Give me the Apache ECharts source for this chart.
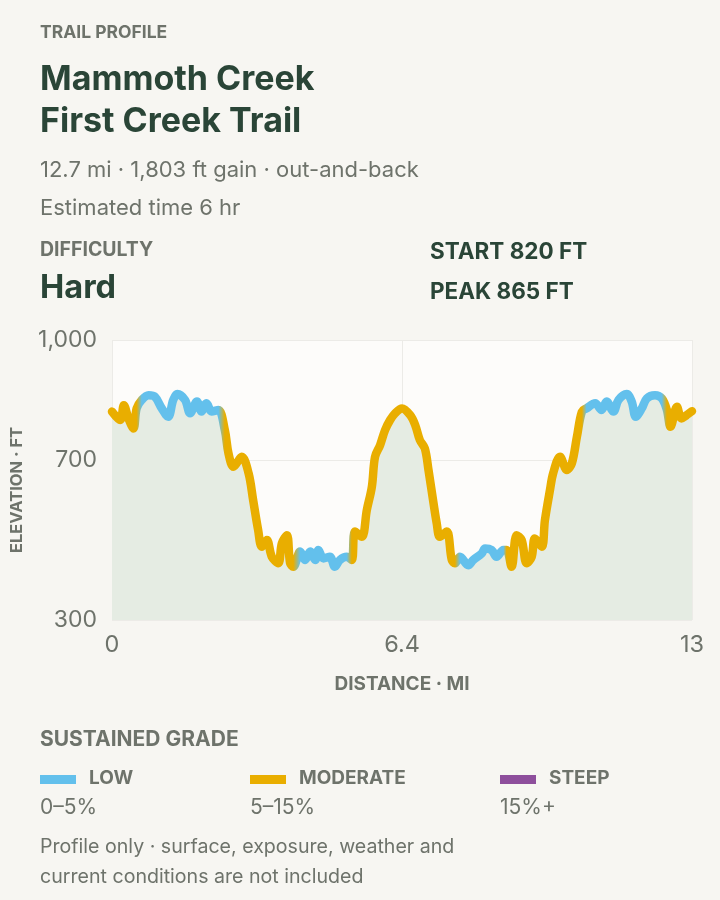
<!DOCTYPE html>
<html>
<head>
<meta charset="utf-8">
<script src="https://cdn.jsdelivr.net/npm/echarts@6/dist/echarts.min.js"></script>
<style>
html,body{margin:0;padding:0;background:#f7f6f2;}
#chart{width:720px;height:900px;}
</style>
</head>
<body>
<div id="chart"></div>
<script>
// ---- data ----
const distanceMi = [0.00,0.18,0.26,0.36,0.47,0.54,0.65,0.80,0.94,1.09,1.23,1.34,1.43,1.60,1.71,1.86,
  1.96,2.07,2.18,2.33,2.47,2.55,2.66,2.84,2.99,3.09,3.20,3.28,3.39,3.50,3.64,3.72,3.83,3.90,3.97,4.12,
  4.23,4.34,4.45,4.52,4.63,4.77,4.88,4.99,5.14,5.25,5.32,5.47,5.58,5.69,5.76,5.87,5.98,6.09,6.20,6.35,
  6.53,6.64,6.74,6.85,6.93,7.04,7.11,7.18,7.33,7.44,7.51,7.62,7.80,7.91,8.10,8.17,8.31,8.42,8.57,8.64,
  8.75,8.86,8.97,9.08,9.19,9.26,9.41,9.48,9.59,9.66,9.81,9.96,10.07,10.18,10.29,10.39,10.58,10.72,10.83,10.98,
  11.09,11.27,11.38,11.47,11.60,11.71,11.89,12.04,12.15,12.23,12.37,12.47,12.58,12.70];
const elevationFt = [821,800,837,804,779,829,850,862,858,829,808,850,865,850,817,846,
  821,842,821,825,775,717,683,708,667,600,525,483,500,458,442,492,512,442,433,471,
  450,471,450,475,454,458,433,450,458,450,521,508,575,633,708,737,775,800,817,829,
  812,787,750,729,675,592,542,508,521,450,442,458,437,450,467,479,475,458,475,475,
  433,512,500,442,458,504,483,550,625,667,708,675,692,758,821,829,842,825,846,821,
  850,865,846,808,829,854,862,854,825,783,833,804,812,822];
// grade class per point: L = low, M = moderate, S = steep
const gradeClass = ['M','M','M','M','M','M','L','L','L','L','L','L','L','L','L','L',
  'L','L','L','L','M','M','M','M','M','M','M','M','M','M','M','M','M','M','M','L',
  'L','L','L','L','L','L','L','L','L','M','M','M','M','M','M','M','M','M','M','M',
  'M','M','M','M','M','M','M','M','M','M','M','L','L','L','L','L','L','L','L','M',
  'M','M','M','M','M','M','M','M','M','M','M','M','M','M','M','L','L','L','L','L',
  'L','L','L','L','L','L','L','L','M','M','M','M','M','M'];
const gradeKeys = ['L','M','S'];
const gradeNames = ['LOW','MODERATE','STEEP'];
const gradeRanges = ['0–5%','5–15%','15%+'];
const gradeColors = ['#63c0ec','#e9ae00','#8e4f9c'];
const yTicks = [300,700,1000];
const xTicks = [0,6.35,12.7];
const xTickLabels = ['0','6.4','13'];
const headerLines = {
  kicker: 'TRAIL PROFILE',
  title1: 'Mammoth Creek',
  title2: 'First Creek Trail',
  stats: '12.7 mi · 1,803 ft gain · out-and-back',
  time: 'Estimated time 6 hr',
  diffLabel: 'DIFFICULTY',
  diffValue: 'Hard',
  start: 'START 820 FT',
  peak: 'PEAK 865 FT',
  legendTitle: 'SUSTAINED GRADE',
  note1: 'Profile only · surface, exposure, weather and',
  note2: 'current conditions are not included'
};

// ---- styling ----
const FONT = 'Inter, "Noto Sans", sans-serif';
const DARK = '#2a4537';
const GREY = '#6e736b';

const chart = echarts.init(document.getElementById('chart'), null, {renderer: 'canvas'});
const xMax = xTicks[xTicks.length - 1];

function txt(text, x, y, size, weight, color) {
  return {
    type: 'text', x: x, y: y,
    style: {text: text, fontSize: size, fontWeight: weight, fontFamily: FONT, fill: color, verticalAlign: 'middle', align: 'left'}
  };
}

const graphics = [
  txt(headerLines.kicker, 40, 32.5, 17.5, 700, GREY),
  txt(headerLines.title1, 40, 80, 34, 700, DARK),
  txt(headerLines.title2, 40, 122, 34, 700, DARK),
  txt(headerLines.stats, 40, 170, 22, 400, GREY),
  txt(headerLines.time, 40, 208, 22, 400, GREY),
  txt(headerLines.diffLabel, 40, 250, 19.5, 700, GREY),
  txt(headerLines.diffValue, 40, 288, 32.5, 700, DARK),
  txt(headerLines.start, 430, 252.5, 22.5, 700, DARK),
  txt(headerLines.peak, 430, 292, 22.5, 700, DARK),
  txt(headerLines.legendTitle, 40, 740, 21, 700, GREY),
  txt(headerLines.note1, 40, 847, 19.6, 400, GREY),
  txt(headerLines.note2, 40, 877, 19.6, 400, GREY)
];
const legendX = [40, 250, 500];
gradeNames.forEach(function (name, i) {
  graphics.push({type: 'rect', shape: {x: legendX[i], y: 775, width: 36, height: 9}, style: {fill: gradeColors[i]}});
  graphics.push(txt(name, legendX[i] + 49, 778, 19, 700, GREY));
  graphics.push(txt(gradeRanges[i], legendX[i], 807.5, 21, 400, GREY));
});

const seriesData = distanceMi.map(function (d, i) { return [d, elevationFt[i]]; });

function buildOption(lineColor) {
  return {
    backgroundColor: '#f7f6f2',
    animation: false,
    graphic: graphics,
    grid: {left: 112, right: 28, top: 340, bottom: 280, show: true, backgroundColor: '#fdfcfa', borderWidth: 0,
      containLabel: false, outerBoundsMode: 'none'},
    xAxis: {
      type: 'value', min: 0, max: xMax,
      axisLine: {show: false},
      axisTick: {show: false, customValues: xTicks},
      splitLine: {show: true, lineStyle: {color: '#ecebe7', width: 1}},
      axisLabel: {
        customValues: xTicks, margin: 13, fontSize: 23.5, color: GREY, fontFamily: FONT,
        formatter: function (v) {
          let best = 0;
          xTicks.forEach(function (t, i) { if (Math.abs(t - v) < Math.abs(xTicks[best] - v)) best = i; });
          return xTickLabels[best];
        }
      },
      name: 'DISTANCE · MI', nameLocation: 'middle', nameGap: 55,
      nameTextStyle: {fontSize: 19, fontWeight: 700, color: GREY, fontFamily: FONT}
    },
    yAxis: {
      type: 'value', min: yTicks[0], max: yTicks[yTicks.length - 1],
      axisLine: {show: false},
      axisTick: {show: false, customValues: yTicks},
      splitLine: {show: true, lineStyle: {color: '#ecebe7', width: 1}},
      axisLabel: {
        customValues: yTicks, margin: 15, fontSize: 23, color: GREY, fontFamily: FONT,
        formatter: function (v) { return Number(v).toLocaleString('en-US'); }
      },
      name: 'ELEVATION · FT', nameLocation: 'middle', nameGap: 86, nameRotate: 90,
      nameTextStyle: {fontSize: 16.5, fontWeight: 700, color: GREY, fontFamily: FONT, padding: [0, 20, 0, 0]}
    },
    series: [{
      type: 'line',
      data: seriesData,
      smooth: 0.35,
      symbol: 'none',
      lineStyle: {width: 8.5, color: lineColor, cap: 'round', join: 'round'},
      areaStyle: {color: '#e5ece3', opacity: 1},
      z: 3
    }]
  };
}

chart.setOption(buildOption(gradeColors[1]));

// build a horizontal gradient following the grade of each sample point
const px0 = chart.convertToPixel({xAxisIndex: 0}, 0);
const px1 = chart.convertToPixel({xAxisIndex: 0}, xMax);
const stops = distanceMi.map(function (d, i) {
  return {offset: d / xMax, color: gradeColors[gradeKeys.indexOf(gradeClass[i])]};
});
const grad = new echarts.graphic.LinearGradient(px0, 0, px1, 0, stops, true);
chart.setOption(buildOption(grad));
</script>
</body>
</html>
